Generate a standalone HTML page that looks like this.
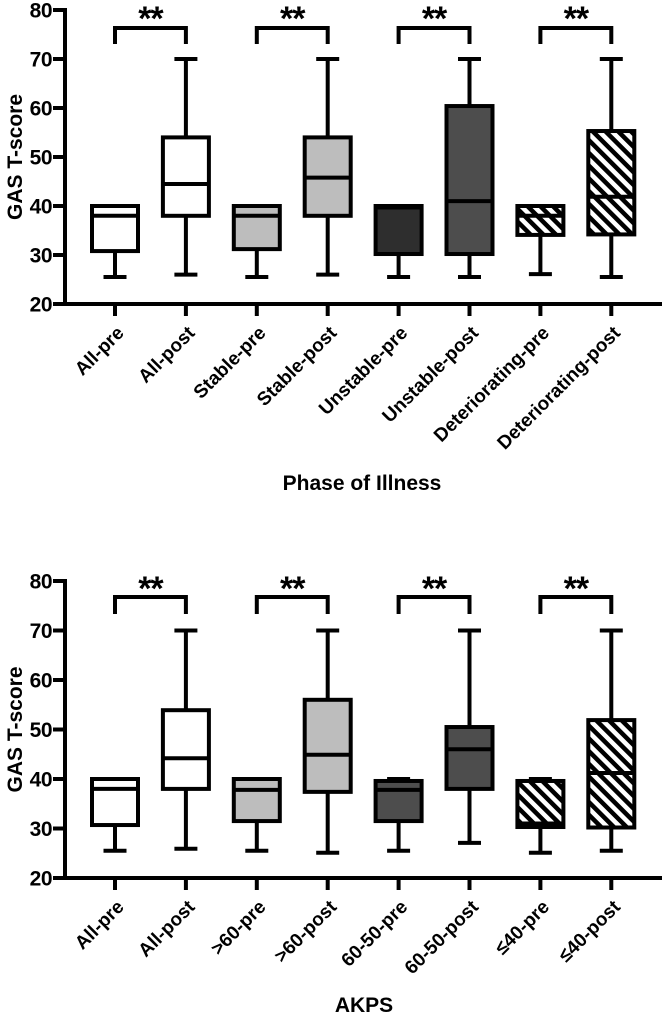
<!DOCTYPE html>
<html><head><meta charset="utf-8"><style>
html,body{margin:0;padding:0;background:#fff;}
svg{display:block;font-family:"Liberation Sans",Arial,sans-serif;font-weight:bold;}
</style></head><body>
<svg id="chart" width="668" height="1015" viewBox="0 0 668 1015" xmlns="http://www.w3.org/2000/svg">
<defs>
<pattern id="hatch" patternUnits="userSpaceOnUse" width="9" height="9" patternTransform="rotate(-45)">
<rect width="9" height="9" fill="#fff"/>
<rect x="0" y="0" width="4.5" height="9" fill="#000"/>
</pattern>
</defs>
</svg>
<script>
// Panel 1 data: Phase of Illness
const cats1 = ["All-pre","All-post","Stable-pre","Stable-post","Unstable-pre","Unstable-post","Deteriorating-pre","Deteriorating-post"];
const min1 = [25.5,26,25.5,26,25.5,25.5,26.1,25.5];
const q1_1 = [30.8,38,31.2,38,30.2,30.2,34.1,34.2];
const med1 = [38,44.5,38,45.8,39.7,41,38,41.9];
const q3_1 = [40,54,40,54,40,60.4,40,55.3];
const max1 = [40,70,40,70,40,70,40,70];
// Panel 2 data: AKPS
const cats2 = ["All-pre","All-post",">60-pre",">60-post","60-50-pre","60-50-post","\u226440-pre","\u226440-post"];
const min2 = [25.5,25.9,25.5,25.1,25.5,27.1,25.1,25.5];
const q1_2 = [30.7,38,31.5,37.4,31.5,38,30.3,30.2];
const med2 = [38,44.2,37.8,44.9,37.8,46,31,41.2];
const q3_2 = [40,53.9,40,56,39.6,50.5,39.6,51.9];
const max2 = [40,70,40,70,40,70,40,70];
const yTicks = [20,30,40,50,60,70,80];
const sigPairs = [[0,1],[2,3],[4,5],[6,7]];
const sigLabels = ["**","**","**","**"];

const fills = ["#fff","#fff","#bdbdbd","#bdbdbd","#2e2e2e","#4d4d4d","url(#hatch)","url(#hatch)"];
const fills2 = ["#fff","#fff","#bdbdbd","#bdbdbd","#4d4d4d","#4d4d4d","url(#hatch)","url(#hatch)"];
const svg = document.getElementById('chart');
const NS = "http://www.w3.org/2000/svg";
function mk(tag, attrs, parent){
  const e = document.createElementNS(NS, tag);
  for (const k in attrs) e.setAttribute(k, attrs[k]);
  (parent||svg).appendChild(e);
  return e;
}
function panel(opts){
  const g = mk('g', {});
  
  
  const y = v => opts.y20 - (v-20)*(opts.y20-opts.y80)/60;
  const x0 = 115, dx = 70.9;
  const x = i => x0 + i*dx;
  const axL = 65, axR = 662;
  const ya = mk('line', {x1:axL, y1:y(80)-2, x2:axL, y2:y(20)+2, stroke:'#000','stroke-width':4}, g);
  
  
  yTicks.forEach(t => {
    mk('line', {x1:axL-12, y1:y(t), x2:axL, y2:y(t), stroke:'#000','stroke-width':4}, g);
    const tl = mk('text', {x:52, y:y(t)+7.5, 'text-anchor':'end','font-size':21,'letter-spacing':'-0.5'}, g);
    tl.textContent = t;
    
    
  });
  const yt = mk('text', {x:0, y:0, transform:`translate(22,${(y(20)+y(80))/2}) rotate(-90)`, 'text-anchor':'middle','font-size':21}, g);
  yt.textContent = 'GAS T-score';
  
  
  const xa = mk('line', {x1:axL-2, y1:y(20), x2:axR, y2:y(20), stroke:'#000','stroke-width':4}, g);
  
  
  opts.cats.forEach((c,i) => {
    mk('line', {x1:x(i), y1:y(20), x2:x(i), y2:y(20)+12, stroke:'#000','stroke-width':4}, g);
    const lx = x(i)+10, ly = y(20)+30;
    const tl = mk('text', {x:lx, y:ly, transform:`rotate(-45 ${lx} ${ly})`, 'text-anchor':'end','font-size':19}, g);
    tl.textContent = c;
    
    
  });
  const xt = mk('text', {x:opts.xtX, y:opts.xtY, 'text-anchor':'middle','font-size':21}, g);
  xt.textContent = opts.xtitle;
  
  
  const bw = 46, cw = 23;
  opts.cats.forEach((c,i) => {
    const bg = mk('g', {}, g);
    
    
    const cx = x(i);
    const sw = 4;
    if (opts.max[i] > opts.q3[i]) {
      mk('line', {x1:cx, y1:y(opts.max[i]), x2:cx, y2:y(opts.q3[i]), stroke:'#000','stroke-width':sw}, bg);
      mk('line', {x1:cx-cw/2, y1:y(opts.max[i]), x2:cx+cw/2, y2:y(opts.max[i]), stroke:'#000','stroke-width':sw}, bg);
    }
    mk('line', {x1:cx, y1:y(opts.q1[i]), x2:cx, y2:y(opts.min[i]), stroke:'#000','stroke-width':sw}, bg);
    mk('line', {x1:cx-cw/2, y1:y(opts.min[i]), x2:cx+cw/2, y2:y(opts.min[i]), stroke:'#000','stroke-width':sw}, bg);
    mk('rect', {x:cx-bw/2, y:y(opts.q3[i]), width:bw, height:y(opts.q1[i])-y(opts.q3[i]), fill:opts.fills[i], stroke:'#000','stroke-width':sw}, bg);
    mk('line', {x1:cx-bw/2, y1:y(opts.med[i]), x2:cx+bw/2, y2:y(opts.med[i]), stroke:'#000','stroke-width':sw}, bg);
  });
  sigPairs.forEach((p,k) => {
    const sg = mk('g', {}, g);
    
    
    const a = x(p[0]), b = x(p[1]);
    const top = opts.bracketTop, leg = opts.bracketLeg;
    mk('polyline', {points:`${a},${leg} ${a},${top} ${b},${top} ${b},${leg}`, fill:'none', stroke:'#000','stroke-width':4}, sg);
    const st = mk('text', {x:(a+b)/2, y:opts.starY, 'text-anchor':'middle','font-size':34,'letter-spacing':'-1'}, sg);
    st.textContent = sigLabels[k];
  });
}
panel({name:'phase-of-illness-chart', cats:cats1, min:min1, q1:q1_1, med:med1, q3:q3_1, max:max1, fills:fills,
  y20:304, y80:10, bracketTop:28, bracketLeg:44, starY:30, xtitle:'Phase of Illness', xtX:362, xtY:490});
panel({name:'akps-chart', cats:cats2, min:min2, q1:q1_2, med:med2, q3:q3_2, max:max2, fills:fills2,
  y20:878, y80:581, bracketTop:597, bracketLeg:614, starY:600, xtitle:'AKPS', xtX:364, xtY:1012});
</script>
</body></html>
